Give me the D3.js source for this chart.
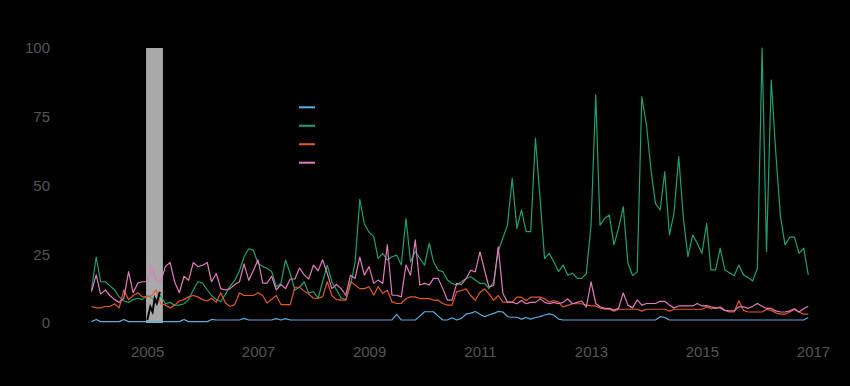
<!DOCTYPE html>
<html><head><meta charset="utf-8">
<script src="https://cdn.jsdelivr.net/npm/d3@7"></script>
<style>html,body{margin:0;padding:0;background:#000;}svg{display:block;}</style>
</head><body>
<svg id="chart" width="850" height="386"></svg>
<script>
const startMonth = "2004-01";
// monthly values, one row per year (2004 ... 2016)
const blue = [
  0.5,1.3,0.5,0.5,0.5,0.5,0.5,1.3,0.5,0.5,0.5,0.5,
  0.5,0.5,0.5,0.5,0.5,0.5,0.5,0.5,1.3,0.5,0.5,0.5,
  0.5,0.5,1.3,1.1,1.1,1.1,1.1,1.1,1.1,1.7,1.1,1.1,
  1.1,1.1,1.1,1.1,1.6,1.1,1.6,1.1,1.1,1.1,1.1,1.1,
  1.1,1.1,1.1,1.1,1.1,1.1,1.1,1.1,1.1,1.1,1.1,1.1,
  1.1,1.1,1.1,1.1,1.1,1.1,3.1,1.1,1.1,1.1,1.1,2.5,
  4.1,4.1,4.1,2.5,1.1,1.1,1.9,1.1,1.7,3.2,3.6,4.2,
  3.2,2.3,2.9,3.5,4.2,4,2.3,2.1,2.1,1.4,2,1.4,
  2,2.3,2.9,3.3,2.9,1.4,1.1,1.1,1.1,1.1,1.1,1.1,
  1.1,1.1,1.1,1.1,1.1,1.1,1.1,1.1,1.1,1.1,1.1,1.1,
  1.1,1.1,1.1,2.3,2,1.1,1.1,1.1,1.1,1.1,1.1,1.1,
  1.1,1.1,1.1,1.1,1.1,1.1,1.1,1.1,1.1,1.1,1.1,1.1,
  1.1,1.1,1.1,1.1,1.1,1.1,1.1,1.1,1.1,1.1,1.1,2
];
const green = [
  12,24,15,15,13.5,12,9.5,8,7.5,8.5,9,8.5,
  10,9,8,10,7,7.5,6.5,6.5,7,8.5,12,15,
  14.5,12,10,8.5,7.8,10.5,13.3,15.5,19,24,27,26.5,
  21.7,20.5,19.9,18.7,13.2,14.4,22.9,18,12,13,15,10.8,
  11.4,9,15,21,15,12,9,8.5,13.8,22,45,36,
  33,31.4,23.5,25.3,22.9,24.1,24.7,21.1,38,22.3,26,23.5,
  21,29,22.3,19.2,18.7,15.6,14.4,13.8,15,16.2,16.8,15.6,
  14.4,14.4,12.5,15,26,31,35.6,52.6,34.4,41.1,33.2,33.2,
  67.2,45,23.5,25.3,22.3,18.7,21.1,17.4,18.1,16.2,16.2,18,
  35.6,83,35.6,38,39.3,28.4,34.4,42.3,21.7,17.3,18.5,82.3,
  72,55,43.5,41.1,55,32,39.9,60.5,38,24.1,32,29,
  25.3,36.2,19.3,19.3,27.2,19.3,18.3,17.2,21.1,17.5,16.5,15.3,
  19.9,100,25.9,88.3,62,38.7,28.4,31.2,31.2,25.3,27.2,17.5
];
const orange = [
  6,5.5,5.5,6,6,7,5.5,12,8.5,10,11,9.5,
  9.5,10,12,7,6.5,5.5,6.5,8,8.5,9.5,10,9.5,
  8.5,8,9,7.5,11,7.3,6,6.7,11,10,10,10,
  11,10,7.3,8.6,10,6.7,6.7,6.7,13,13,11.6,10.5,
  9,9,9.5,15,10,8.5,8.3,8.3,15,13.8,12.5,12.5,
  13.2,10.1,13.2,10.8,11.9,7.7,7.1,7.1,8.9,9.5,9.5,8.9,
  8.9,8.9,8.3,8.3,7.1,6.5,6.5,11.4,11.8,12.4,10,8.2,
  11.2,12.4,10.6,8.2,10,7.6,7.6,7.6,9.4,9.4,8.2,9.4,
  9.4,9.4,8.8,7.6,8.2,7.6,5.8,6.4,7,7,7,6.5,
  6.2,6.2,5.5,5,5,4.3,5,5,5,5,5,4.3,
  5,5,5,5,5,4.3,5,5,5,5,5,5,
  5,5.8,5.3,5.3,5.9,4.6,4,4,8.1,4.6,4,4,
  4,4,4.9,4.6,3.7,3.2,3.2,4,4.9,4,3.2,3.2
];
const pink = [
  11.4,17.5,10.5,12,10,8.5,7.5,9,18.7,11,14.5,15,
  15,21,15.5,15,20.5,22,15,11,17,15.5,22,20.5,
  21,22,15,18,12.5,12,12.5,14,15,21.5,15.5,19,
  23,14.5,14.5,17,12,14,12.5,16,16,20,17.5,16,
  21,19,23,18,12.5,14,12.5,10.1,17.4,16.2,24,17.4,
  20.5,14.4,15.6,14.4,28.4,10.1,10.1,9.5,21.1,17.4,30.2,13.8,
  14.4,13.8,16.2,16.2,12.5,8.3,8.3,14.4,14,16.1,19.2,18.6,
  25.9,19,13.1,13.7,27.7,10.7,7.6,7.6,7,8.2,7,7.5,
  7.5,8.8,7.5,7,7.5,7,7.5,8.8,7,7.5,8,5.8,
  15,7.1,5.9,5.3,5.3,4.7,5.3,10.9,6.5,5.5,8.4,6.5,
  7.1,7.1,7.1,7.9,7.9,6.5,5.5,6.2,6.2,6.2,6.2,7.1,
  6.2,6.3,5.9,5.5,5.5,4.6,4.4,4.4,5.9,5.9,5.3,6.1,
  7.1,6.1,5.3,5.3,4.4,4,4,4.4,5.2,4,5.3,6.1
];
const blackDates = ["2005-01-02","2005-01-22","2005-02-06","2005-02-20","2005-03-06","2005-03-26"];
const blackValues = [1.1,5.9,4.1,9,7.2,11.4];
const shadeStart = "2004-12-25", shadeEnd = "2005-04-15";
const shadeRange = [0, 100];
const xTickYears = [2005,2007,2009,2011,2013,2015,2017];
const yTicks = [0,25,50,75,100];
const seriesNames = ["blue","green","orange","pink"];
const seriesColors = ["#5aaee0","#1fa070","#e2582a","#e07cba"];

const svg = d3.select("#chart");
const parse = d3.timeParse("%Y-%m-%d");
const start = d3.timeParse("%Y-%m")(startMonth);
const seriesData = [blue, green, orange, pink];
const nMonths = d3.max(seriesData, s => s.length);
const months = d3.range(nMonths).map(i => d3.timeMonth.offset(start, i));

const x = d3.scaleTime().domain([new Date(2004,0,1), new Date(2017,0,1)]).range([91.5, 813]);
const y = d3.scaleLinear().domain([0,100]).range([323, 48]);

svg.append("rect").attr("width",850).attr("height",386).attr("fill","#000");

svg.append("rect")
  .attr("x", x(parse(shadeStart)))
  .attr("width", x(parse(shadeEnd)) - x(parse(shadeStart)))
  .attr("y", y(shadeRange[1]))
  .attr("height", y(shadeRange[0]) - y(shadeRange[1]))
  .attr("fill", "#a9a9a9");

const line = d3.line().x(d => x(d[0])).y(d => y(d[1]));
seriesData.forEach((vals, k) => {
  svg.append("path")
    .datum(vals.map((v,i) => [months[i], v]))
    .attr("fill","none")
    .attr("stroke", seriesColors[k])
    .attr("stroke-width", 1.2)
    .attr("stroke-linejoin","round")
    .attr("d", line);
});

svg.append("path")
  .datum(blackDates.map((d,i) => [parse(d), blackValues[i]]))
  .attr("fill","none").attr("stroke","#000").attr("stroke-width",2)
  .attr("d", line);

const fontFam = "'Liberation Sans', Arial, sans-serif";
const xAxis = svg.append("g").attr("transform","translate(0,335)")
  .call(d3.axisBottom(x).tickValues(xTickYears.map(yr => new Date(yr,0,1))).tickFormat(d3.timeFormat("%Y")).tickSize(0).tickPadding(0));
xAxis.select(".domain").remove();
xAxis.selectAll("text").attr("fill","#555").attr("font-size",15).attr("font-family",fontFam).attr("dy","0.71em").attr("y",11);

const yAxis = svg.append("g").attr("transform","translate(50,0)")
  .call(d3.axisLeft(y).tickValues(yTicks).tickSize(0).tickPadding(0));
yAxis.select(".domain").remove();
yAxis.selectAll("text").attr("fill","#555").attr("font-size",15).attr("font-family",fontFam);

const ly = d3.scalePoint().domain(seriesNames).range([107.3, 162.7]);
const legend = svg.append("g");
seriesNames.forEach((n,k) => {
  legend.append("line")
    .attr("x1",299).attr("x2",315)
    .attr("y1",ly(n)).attr("y2",ly(n))
    .attr("stroke",seriesColors[k]).attr("stroke-width",2);
});
</script>
</body></html>
